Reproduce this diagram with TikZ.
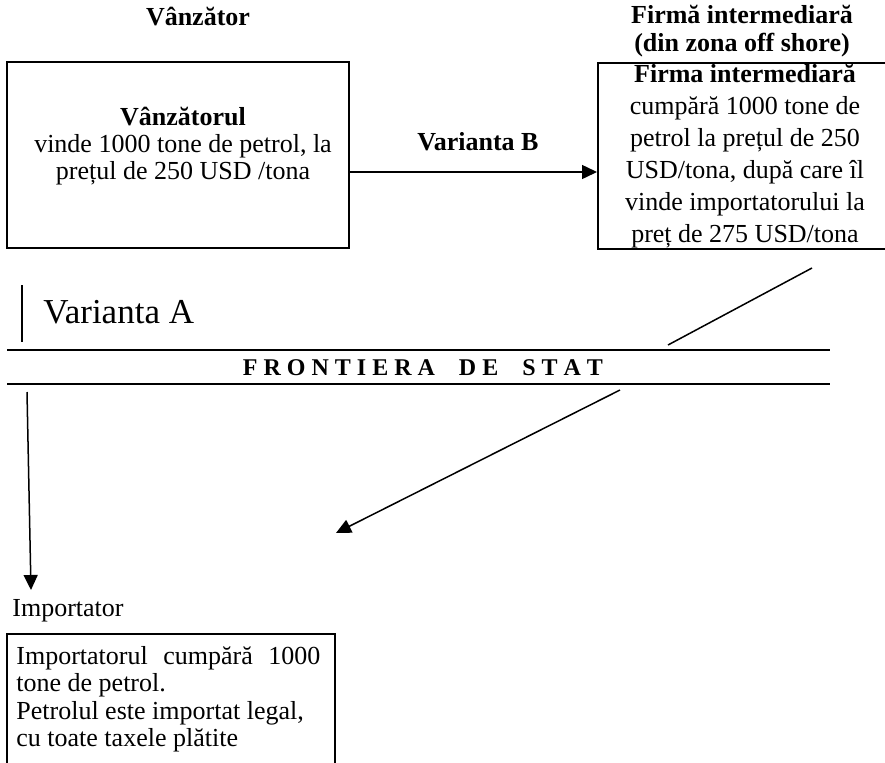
\documentclass[tikz,border=0pt]{standalone}
\usepackage{fontspec}
\setmainfont{Liberation Serif}
\usetikzlibrary{arrows.meta}

\begin{document}
\begin{tikzpicture}[
  x=0.5pt, y=-0.5pt,
  every node/.style={font=\fontsize{13}{13.7}\selectfont, inner sep=0pt},
  frame/.style={draw, line width=1pt, inner sep=0pt},
  head/.style={align=center, font=\fontsize{13}{14}\selectfont\bfseries},
  link/.style={line width=0.75pt},
  border/.style={line width=1.25pt},
  >={Triangle[length=7.5pt, width=7pt]}
]
\useasboundingbox (0,0) rectangle (885,762);

% seller and offshore firm
\node[head] (sellerhd) at (198,17) {Vânzător};
\node[head] (brokerhd) at (742,31) {Firmă intermediară\\(din zona off shore)};
\node[frame, minimum width=171pt, minimum height=93pt] (seller) at (178,155) {};
\node[align=center] (sellertxt) at (183,146)
  {\textbf{Vânzătorul}\\vinde 1000 tone de petrol, la\\prețul de 250 USD /tona};
\node[frame, minimum width=147pt, minimum height=93pt, align=center,
      font=\fontsize{13}{16}\selectfont] (broker) at (745,156)
  {\textbf{Firma intermediară}\\cumpără 1000 tone de\\petrol la prețul de 250\\USD/tona, după care îl\\vinde importatorului la\\preț de 275 USD/tona};
\node[font=\fontsize{13}{14}\selectfont\bfseries] (varb) at (478,142) {Varianta B};
\draw[link,->] ([yshift=-8.5pt]seller.east) -- ([yshift=-8pt]broker.west);

% state border
\coordinate (atop) at (22,285);
\coordinate (abot) at (22,342);
\draw[link] (atop) -- (abot);
\node[anchor=west, font=\fontsize{17.5}{19}\selectfont] (vara) at (43,312) {Varianta A};
\coordinate (b1w) at (7,350);
\coordinate (b1e) at (830,350);
\coordinate (b2w) at (7,384);
\coordinate (b2e) at (830,384);
\draw[border] (b1w) -- (b1e);
\draw[border] (b2w) -- (b2e);
\node[font=\fontsize{12}{14}\selectfont\bfseries] (frontier) at (423,368)
  {F R O N T I E R A\quad D E\quad S T A T};
\coordinate (diagtop) at (812,268);
\coordinate (diagbot) at (668,345);
\draw[link] (diagtop) -- (diagbot);

% importer
\coordinate (atail) at (27,392);
\coordinate (ahead) at (31,590);
\coordinate (btail) at (620,390);
\coordinate (bhead) at (336,533);
\draw[link,->] (atail) -- (ahead);
\draw[link,->] (btail) -- (bhead);
\node[anchor=west] (implbl) at (12,611) {Importator};
\node[frame, minimum width=164pt, minimum height=71pt] (buyer) at (171,705) {};
\node[anchor=north west, align=left] (buyertxt) at (16,646)
  {\makebox[152pt][s]{Importatorul cumpără 1000}\\tone de petrol.\\Petrolul este importat legal,\\cu toate taxele plătite};
\end{tikzpicture}
\end{document}
